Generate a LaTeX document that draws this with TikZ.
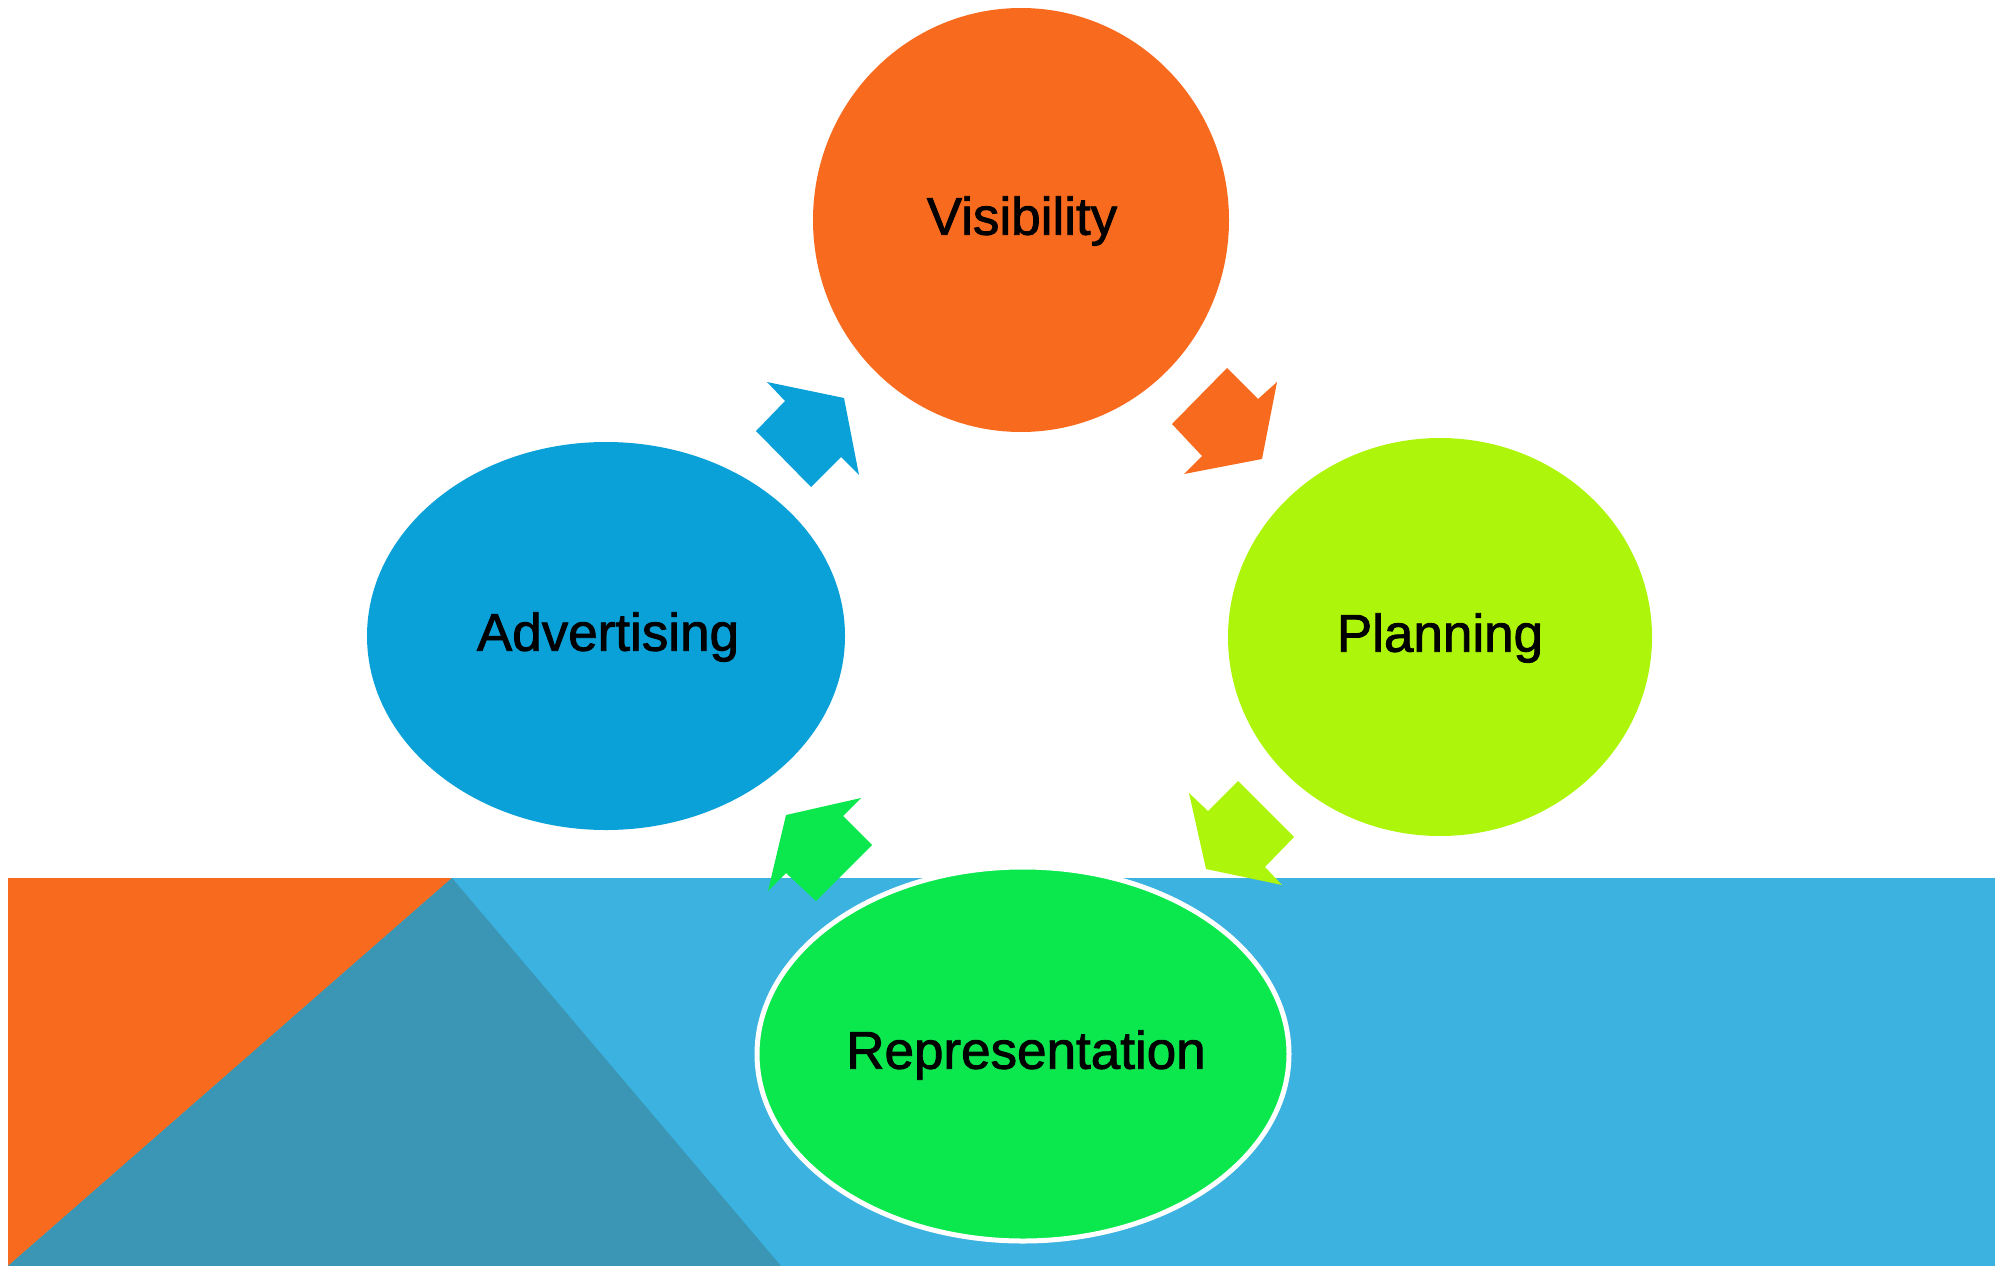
\documentclass[tikz,border=0pt]{standalone}
\usepackage{fontspec}
\setmainfont{Liberation Sans}
\newfontfamily\bubblefont[FakeBold=1.6]{Liberation Sans}
\definecolor{cOrange}{HTML}{F86B1E}
\definecolor{cBand}{HTML}{3BB2E0}
\definecolor{cTeal}{HTML}{3A96B4}
\definecolor{cBlue}{HTML}{0AA0D8}
\definecolor{cLime}{HTML}{ADF50A}
\definecolor{cGreen}{HTML}{0AE84E}
\begin{document}
\begin{tikzpicture}[x=1pt,y=-1pt,
  bubble/.style={draw=none, inner sep=0pt, font=\bubblefont\fontsize{53}{60}\selectfont, text=black}]
\useasboundingbox (0,0) rectangle (2005,1266);
% bottom band
\fill[cBand] (8,878) rectangle (1995,1266);
\fill[cOrange] (8,878) -- (452,878) -- (8,1266) -- cycle;
\fill[cTeal] (452,878) -- (781,1266) -- (8,1266) -- cycle;
% bubbles
\fill[cOrange] (1021,220) ellipse [x radius=208, y radius=212];
\node[bubble] (vis) at (1022,221) {Visibility};
\fill[cBlue] (606,636) ellipse [x radius=239, y radius=194];
\node[bubble] (adv) at (608,637) {Advertising};
\fill[cLime] (1440,637) ellipse [x radius=212, y radius=199];
\node[bubble] (plan) at (1440,638) {Planning};
\fill[cGreen, draw=white, line width=5pt] (1023,1054) ellipse [x radius=266, y radius=187];
\node[bubble] (rep) at (1026,1055) {Representation};
% block arrows
\fill[cBlue] (844,398) -- (859,475) -- (841,457) -- (811,487) -- (756,431) -- (785,401) -- (767,382) -- cycle;
\fill[cOrange] (1262,459) -- (1184,474) -- (1202,456) -- (1172,424) -- (1227,368) -- (1258,399) -- (1277,382) -- cycle;
\fill[cGreen] (786,815) -- (861,798) -- (843,816) -- (872,845) -- (816,901) -- (786,873) -- (768,891) -- cycle;
\fill[cLime] (1206,869) -- (1189,793) -- (1208,811) -- (1238,781) -- (1294,837) -- (1265,867) -- (1282,885) -- cycle;
\end{tikzpicture}
\end{document}
